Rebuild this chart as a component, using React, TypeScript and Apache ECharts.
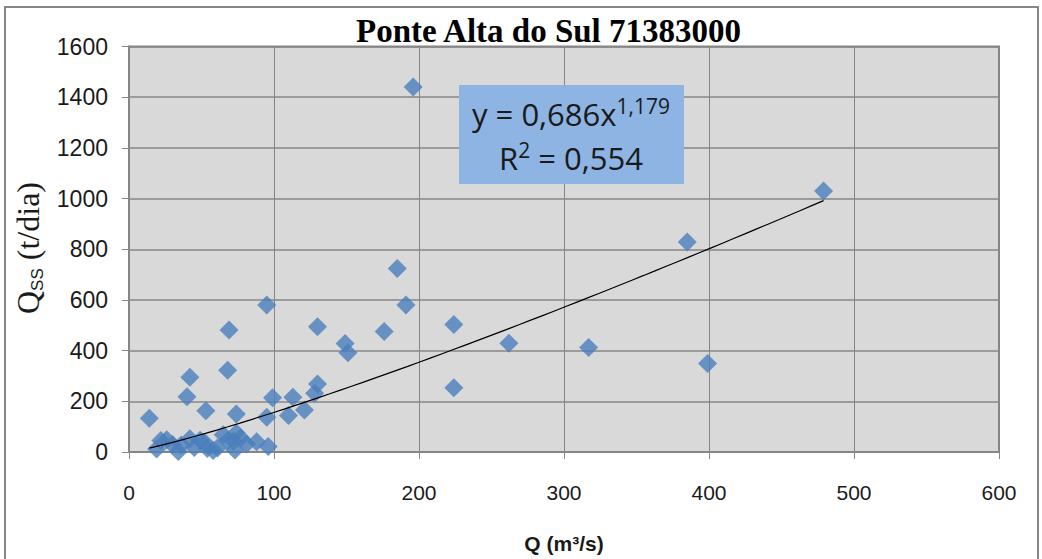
import React, { useEffect, useRef } from "react";
import * as echarts from "echarts";

// Station name shown above the plot
const chartTitle = "Ponte Alta do Sul 71383000";

// Liquid discharge Q (m³/s) of each sample
const dischargeQ = [
  14, 40, 42, 68, 69, 95, 53, 74, 99, 95, 113, 110, 121, 128, 130, 130, 149, 151,
  176, 185, 191, 196, 224, 224, 262, 317, 385, 399, 479,
  19, 22, 26, 30, 34, 36, 42, 45, 49, 52, 54, 58, 61, 65, 68, 72, 74, 73, 77, 81,
  88, 96,
];

// Suspended sediment discharge Qss (t/dia) of each sample
const sedimentQss = [
  133, 218, 295, 323, 481, 580, 163, 150, 214, 137, 216, 144, 166, 232, 268, 494,
  428, 392, 475, 724, 580, 1440, 503, 254, 429, 412, 829, 349, 1030,
  12, 45, 48, 30, 2, 28, 52, 18, 46, 38, 14, 6, 16, 68, 45, 42, 75, 8, 55, 32,
  40, 22,
];

// Power-law fit stated in the equation box: y = a·x^b
const fitCoefText = "0,686";
const fitExpText = "1,179";
const fitR2Text = "0,554";
const fitCoef = parseFloat(fitCoefText.replace(",", "."));
const fitExp = parseFloat(fitExpText.replace(",", "."));

// Axis ranges and steps
const xAxisMin = 0;
const xAxisMax = 600;
const xAxisStep = 100;
const yAxisMin = 0;
const yAxisMax = 1600;
const yAxisStep = 200;

const xAxisTitle = "Q (m³/s)";

export default function App() {
  const ref = useRef<HTMLDivElement>(null);

  useEffect(() => {
    if (!ref.current) return;
    const chart = echarts.init(ref.current, undefined, { renderer: "svg" });

    const points = dischargeQ.map((q, i) => [q, sedimentQss[i]]);

    // Fitted curve across the observed discharge range
    const qMin = Math.min(...dischargeQ);
    const qMax = Math.max(...dischargeQ);
    const steps = 60;
    const fitLine: number[][] = [];
    for (let i = 0; i <= steps; i++) {
      const q = qMin + ((qMax - qMin) * i) / steps;
      fitLine.push([q, fitCoef * Math.pow(q, fitExp)]);
    }

    const gridLeft = 129;
    const gridTop = 46.5;
    const gridWidth = 870;
    const gridHeight = 405.5;
    const gray = "#868686";
    const serif = "'Liberation Serif', 'Times New Roman', serif";

    chart.setOption({
      animation: false,
      backgroundColor: "#ffffff",
      title: {
        text: chartTitle,
        left: 351,
        top: 9,
        textStyle: {
          fontFamily: serif,
          fontWeight: "bold",
          fontSize: 33,
          color: "#000000",
        },
      },
      grid: {
        left: gridLeft,
        top: gridTop,
        width: gridWidth,
        height: gridHeight,
        show: true,
        backgroundColor: "#d9d9d9",
        borderColor: gray,
        borderWidth: 2,
      },
      xAxis: {
        type: "value",
        min: xAxisMin,
        max: xAxisMax,
        interval: xAxisStep,
        name: xAxisTitle,
        nameLocation: "middle",
        nameGap: 81,
        nameTextStyle: {
          fontFamily: "'Liberation Sans Narrow', 'Liberation Sans', sans-serif",
          fontWeight: "bold",
          fontSize: 21,
          color: "#1a1a1a",
        },
        axisLine: { show: true, lineStyle: { color: gray, width: 2 } },
        axisTick: { show: true, length: 7, lineStyle: { color: gray, width: 1 } },
        splitLine: { show: true, lineStyle: { color: gray, width: 1 } },
        axisLabel: {
          margin: 30,
          fontFamily: "'Liberation Sans Narrow', 'Liberation Sans', sans-serif",
          fontSize: 21,
          color: "#1a1a1a",
          formatter: (v: number) => String(v),
        },
      },
      yAxis: {
        type: "value",
        min: yAxisMin,
        max: yAxisMax,
        interval: yAxisStep,
        axisLine: { show: true, lineStyle: { color: gray, width: 2 } },
        axisTick: { show: true, length: 7, lineStyle: { color: gray, width: 1 } },
        splitLine: { show: true, lineStyle: { color: gray, width: 1.5 } },
        axisLabel: {
          margin: 21,
          fontFamily: "'Liberation Sans', Arial, sans-serif",
          fontSize: 23,
          color: "#1a1a1a",
          formatter: (v: number) => String(v),
        },
      },
      series: [
        {
          type: "scatter",
          data: points,
          symbol: "diamond",
          symbolSize: 19,
          itemStyle: { color: "#4a7ebb" },
          z: 2,
        },
        {
          type: "line",
          data: fitLine,
          showSymbol: false,
          smooth: false,
          lineStyle: { color: "#000000", width: 1.2 },
          z: 3,
        },
      ],
      graphic: [
        // outer chart frame
        {
          type: "rect",
          shape: { x: 5, y: 7, width: 1033, height: 620 },
          style: { fill: "none", stroke: gray, lineWidth: 2 },
          silent: true,
        },
        // vertical axis title with subscript
        {
          type: "text",
          x: 28,
          y: 248,
          rotation: Math.PI / 2,
          style: {
            text: "{q|Q}{s|SS}{q| (t/dia)}",
            align: "center",
            verticalAlign: "middle",
            fill: "#1a1a1a",
            rich: {
              q: {
                fontFamily: serif,
                fontSize: 32,
                lineHeight: 36,
                fill: "#1a1a1a",
              },
              s: {
                fontFamily: "'Liberation Sans', Arial, sans-serif",
                fontSize: 17,
                lineHeight: 17,
                verticalAlign: "bottom",
                fill: "#1a1a1a",
              },
            },
          },
        },
        // regression equation box
        {
          type: "rect",
          shape: { x: 459, y: 85, width: 225, height: 99 },
          style: { fill: "#8db4e2" },
          z: 10,
        },
        {
          type: "text",
          x: 571,
          y: 114,
          z: 11,
          style: {
            text: `{m|y = ${fitCoefText}x}{e|${fitExpText}}`,
            align: "center",
            verticalAlign: "middle",
            rich: {
              m: {
                fontFamily: "'Open Sans', 'Liberation Sans', sans-serif",
                fontSize: 31,
                lineHeight: 38,
                fill: "#1a1a1a",
              },
              e: {
                fontFamily: "'Open Sans', 'Liberation Sans', sans-serif",
                fontSize: 21,
                lineHeight: 24,
                verticalAlign: "top",
                fill: "#1a1a1a",
              },
            },
          },
        },
        {
          type: "text",
          x: 571,
          y: 158,
          z: 11,
          style: {
            text: `{m|R}{e|2}{m| = ${fitR2Text}}`,
            align: "center",
            verticalAlign: "middle",
            rich: {
              m: {
                fontFamily: "'Open Sans', 'Liberation Sans', sans-serif",
                fontSize: 31,
                lineHeight: 38,
                fill: "#1a1a1a",
              },
              e: {
                fontFamily: "'Open Sans', 'Liberation Sans', sans-serif",
                fontSize: 21,
                lineHeight: 24,
                verticalAlign: "top",
                fill: "#1a1a1a",
              },
            },
          },
        },
      ],
    });

    return () => chart.dispose();
  }, []);

  return (
    <div
      ref={ref}
      style={{ position: "absolute", left: 0, top: 0, width: 1042, height: 559 }}
    />
  );
}
